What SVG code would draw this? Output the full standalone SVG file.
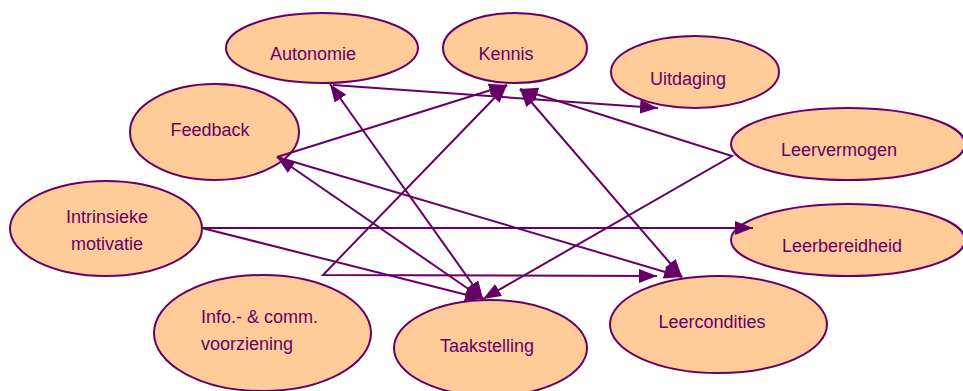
<svg xmlns="http://www.w3.org/2000/svg" width="963" height="391" viewBox="0 0 963 391">
<style>
.n ellipse{fill:#ffcc99;stroke:#660066;stroke-width:2}
.n text{font-family:"Liberation Sans",Arial,sans-serif;font-size:18px;fill:#660066;text-anchor:middle}
.c path{fill:none;stroke:#660066;stroke-width:2}
</style>
<defs>
<marker id="a" viewBox="0 0 18 14" refX="18" refY="7" markerWidth="18" markerHeight="14" markerUnits="userSpaceOnUse" orient="auto-start-reverse">
<path d="M0,0 L18,7 L0,14 z" fill="#660066"/>
</marker>
</defs>
<rect width="963" height="391" fill="#ffffff"/>
<g id="autonomie" class="n"><ellipse cx="322" cy="48" rx="96" ry="35"/><text x="313" y="60">Autonomie</text></g>
<g id="kennis" class="n"><ellipse cx="515" cy="48" rx="72" ry="35"/><text x="506" y="60">Kennis</text></g>
<g id="uitdaging" class="n"><ellipse cx="695" cy="72" rx="84" ry="36"/><text x="688" y="85">Uitdaging</text></g>
<g id="feedback" class="n"><ellipse cx="214.5" cy="132" rx="84.5" ry="48"/><text x="210" y="136">Feedback</text></g>
<g id="leervermogen" class="n"><ellipse cx="848" cy="144" rx="117" ry="36"/><text x="839" y="156">Leervermogen</text></g>
<g id="intrinsieke" class="n"><ellipse cx="106" cy="228.5" rx="96" ry="47.5"/><text x="107" y="223">Intrinsieke</text><text x="107" y="250">motivatie</text></g>
<g id="leerbereidheid" class="n"><ellipse cx="848" cy="240" rx="117" ry="36"/><text x="842" y="252">Leerbereidheid</text></g>
<g id="info" class="n"><ellipse cx="262.5" cy="333" rx="108.5" ry="58"/><text x="201" y="323" style="text-anchor:start">Info.- &amp; comm.</text><text x="201" y="350" style="text-anchor:start">voorziening</text></g>
<g id="taakstelling" class="n"><ellipse cx="490.5" cy="348" rx="96.5" ry="48"/><text x="487" y="352">Taakstelling</text></g>
<g id="leercondities" class="n"><ellipse cx="718.5" cy="324.5" rx="108.5" ry="48.5"/><text x="712" y="328">Leercondities</text></g>
<g id="connectors" class="c">
<path d="M333,85 L658,108" marker-end="url(#a)"/>
<path d="M483,299 L330,84" marker-start="url(#a)" marker-end="url(#a)"/>
<path d="M507,85 L323,275 L657,276" marker-start="url(#a)" marker-end="url(#a)"/>
<path d="M520,89 L732,156 L483,299" marker-start="url(#a)" marker-end="url(#a)"/>
<path d="M753,228 L202,228 L483,299" marker-start="url(#a)" marker-end="url(#a)"/>
<path d="M277,157 L507,85" marker-end="url(#a)"/>
<path d="M277,157 L483,299" marker-start="url(#a)" marker-end="url(#a)"/>
<path d="M277,157 L682,277" marker-end="url(#a)"/>
<path d="M520,89 L682,277" marker-start="url(#a)" marker-end="url(#a)"/>
</g>
</svg>
